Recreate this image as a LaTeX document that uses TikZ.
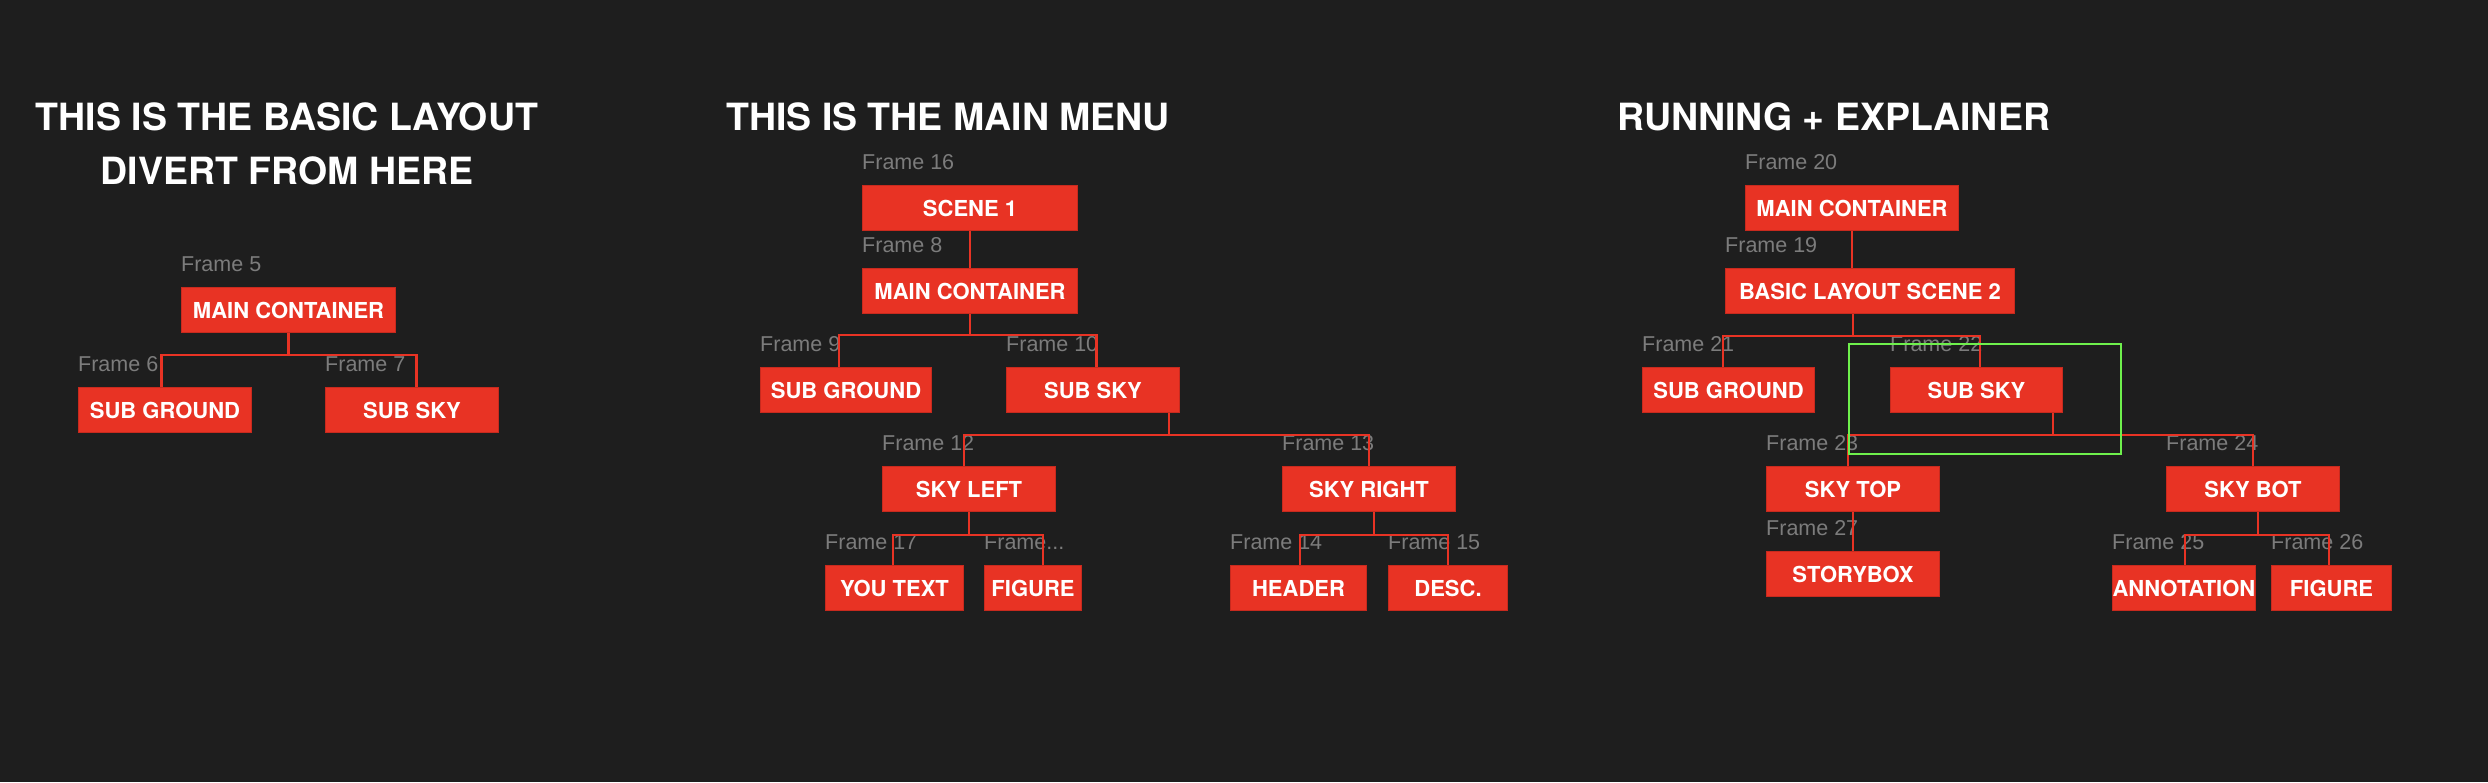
\documentclass[tikz,border=0pt]{standalone}
\usepackage{fontspec}
\setmainfont{TeX Gyre Heros}
\newfontfamily\lblfont{Liberation Sans}
\usetikzlibrary{calc}
\definecolor{bg}{HTML}{1E1E1E}
\definecolor{boxred}{HTML}{E83324}
\definecolor{boxedge}{HTML}{C82A1E}
\definecolor{lblgray}{HTML}{7C7C7C}
\definecolor{selgreen}{HTML}{6EF04C}
\tikzset{
  box/.style={anchor=north west, fill=boxred, draw=boxedge, line width=1pt,
    minimum height=45pt, inner sep=0pt, text=white,
    font=\bfseries\fontsize{22}{24}\selectfont},
  lbl/.style={anchor=base west, inner sep=0pt, text=lblgray,
    font=\lblfont\fontsize{21.5}{24}\selectfont},
  ttl/.style={inner sep=0pt, text=white,
    font=\bfseries\fontsize{37.5}{54.3}\selectfont},
  conn/.style={draw=boxred, line width=2.2pt},
  selbox/.style={anchor=north west, draw=selgreen, line width=2pt, inner sep=0pt}
}
% fork: parent, parent fraction, bus y, child1, fraction, child2, fraction
\newcommand\forkto[7]{%
  \coordinate (#1-out) at ($(#1.south west)!#2!(#1.south east)$);
  \coordinate (#1-bus) at (0,#3);
  \coordinate (#4-in) at ($(#4.north west)!#5!(#4.north east)$);
  \coordinate (#6-in) at ($(#6.north west)!#7!(#6.north east)$);
  \draw[conn] (#1-out) -- (#1-out |- #1-bus);
  \draw[conn] (#4-in) -- (#4-in |- #1-bus) -- (#6-in |- #1-bus) -- (#6-in);
}
\newcommand\framelabel[2]{%
  \node[lbl] (#1-lbl) at ($(#1.north west)+(0,-16)$) {#2};
}
\begin{document}
\begin{tikzpicture}[x=1pt,y=-1pt]
\fill[bg] (0,0) rectangle (2488,782);
\useasboundingbox (0,0) rectangle (2488,782);

% ---------- Panel 1 ----------
\node[ttl, align=center] (t1) at (287,144) {THIS IS THE BASIC LAYOUT\\DIVERT FROM HERE};
\node[box, minimum width=214pt] (a5) at (181,287) {MAIN CONTAINER};
\node[box, minimum width=173pt] (a6) at (78,387) {SUB GROUND};
\node[box, minimum width=173pt] (a7) at (325,387) {SUB SKY};
\framelabel{a5}{Frame 5}
\framelabel{a6}{Frame 6}
\framelabel{a7}{Frame 7}
\forkto{a5}{0.5}{355}{a6}{0.48}{a7}{0.526}

% ---------- Panel 2 ----------
\node[ttl, anchor=base west] (t2) at (726,130) {THIS IS THE MAIN MENU};
\node[box, minimum width=215pt] (b16) at (862,185) {SCENE 1};
\node[box, minimum width=215pt] (b8) at (862,268) {MAIN CONTAINER};
\node[box, minimum width=171pt] (b9) at (760,367) {SUB GROUND};
\node[box, minimum width=173pt] (b10) at (1006,367) {SUB SKY};
\node[box, minimum width=173pt] (b12) at (882,466) {SKY LEFT};
\node[box, minimum width=173pt] (b13) at (1282,466) {SKY RIGHT};
\node[box, minimum width=138pt] (b17) at (825,565) {YOU TEXT};
\node[box, minimum width=97pt] (b18) at (984,565) {FIGURE};
\node[box, minimum width=136pt] (b14) at (1230,565) {HEADER};
\node[box, minimum width=119pt] (b15) at (1388,565) {DESC.};
\framelabel{b16}{Frame 16}
\framelabel{b8}{Frame 8}
\framelabel{b9}{Frame 9}
\framelabel{b10}{Frame 10}
\framelabel{b12}{Frame 12}
\framelabel{b13}{Frame 13}
\framelabel{b17}{Frame 17}
\framelabel{b18}{Frame...}
\framelabel{b14}{Frame 14}
\framelabel{b15}{Frame 15}
\draw[conn] (b16.south) -- (b8.north);
\forkto{b8}{0.5}{335}{b9}{0.46}{b10}{0.52}
\forkto{b10}{0.936}{435}{b12}{0.47}{b13}{0.5}
\forkto{b12}{0.5}{535}{b17}{0.49}{b18}{0.6}
\forkto{b13}{0.53}{535}{b14}{0.51}{b15}{0.5}

% ---------- Panel 3 ----------
\node[ttl, anchor=base west] (t3) at (1617,130) {RUNNING + EXPLAINER};
\node[box, minimum width=213pt] (c20) at (1745,185) {MAIN CONTAINER};
\node[box, minimum width=289pt] (c19) at (1725,268) {BASIC LAYOUT SCENE 2};
\node[box, minimum width=172pt] (c21) at (1642,367) {SUB GROUND};
\node[box, minimum width=172pt] (c22) at (1890,367) {SUB SKY};
\node[box, minimum width=173pt] (c23) at (1766,466) {SKY TOP};
\node[box, minimum width=173pt] (c24) at (2166,466) {SKY BOT};
\node[box, minimum width=173pt] (c27) at (1766,551) {STORYBOX};
\node[box, minimum width=138pt] (c25) at (2112,565) {ANNOTATION};
\node[box, minimum width=120pt] (c26) at (2271,565) {FIGURE};
\framelabel{c20}{Frame 20}
\framelabel{c19}{Frame 19}
\framelabel{c21}{Frame 21}
\framelabel{c22}{Frame 22}
\framelabel{c23}{Frame 23}
\framelabel{c24}{Frame 24}
\framelabel{c27}{Frame 27}
\framelabel{c25}{Frame 25}
\framelabel{c26}{Frame 26}
\draw[conn] (c20.south) -- (c20.south |- c19.north);
\forkto{c19}{0.441}{336}{c21}{0.47}{c22}{0.52}
\forkto{c22}{0.94}{435}{c23}{0.47}{c24}{0.5}
\draw[conn] (c23.south) -- (c27.north);
\forkto{c24}{0.527}{535}{c25}{0.51}{c26}{0.48}
\node[selbox, minimum width=272pt, minimum height=110pt] (sel) at (1848,343) {};
\end{tikzpicture}
\end{document}
